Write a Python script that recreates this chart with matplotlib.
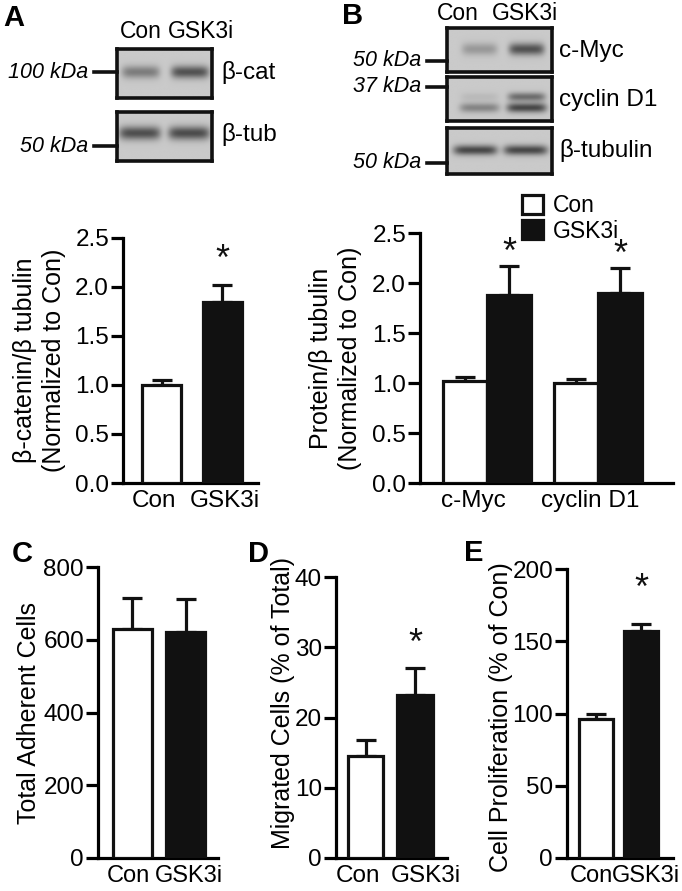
import numpy as np
import matplotlib
matplotlib.use("Agg")
import matplotlib.pyplot as plt
from matplotlib.transforms import ScaledTranslation
from matplotlib.patches import Patch

plt.rcParams['font.family'] = ['Liberation Sans', 'DejaVu Sans']
FS = 17.5
FSL = 18

W, H = 682, 891
fig = plt.figure(figsize=(W / 100, H / 100), dpi=100)

def ax_px(l, r, b, t):
    ax = fig.add_axes([l / W, 1 - b / H, (r - l) / W, (b - t) / H])
    ax._px = (l, r, b, t)
    return ax

# ---------------- data ----------------
groups2 = ["Con", "GSK3i"]
a_vals = [1.00, 1.85]
a_err = [0.05, 0.17]
b_cats = ["c-Myc", "cyclin D1"]
b_con = [1.02, 1.00]
b_con_err = [0.04, 0.04]
b_gsk = [1.88, 1.90]
b_gsk_err = [0.29, 0.25]
c_vals = [630, 620]
c_err = [85, 92]
d_vals = [14.5, 23.2]
d_err = [2.3, 3.8]
e_vals = [96, 157]
e_err = [3.5, 5.0]

# blot band intensities (Con, GSK3i)
blot_bcat = [0.50, 0.78]
blot_btub_a = [0.80, 0.82]
blot_cmyc = [0.32, 0.78]
blot_cyc_upper = [0.10, 0.60]
blot_cyc_lower = [0.45, 0.85]
blot_btub_b = [0.85, 0.85]

LW = 2.3

def style_axes(ax, ymax, yticks, yfmt):
    ax.set_ylim(0, ymax)
    ax.set_yticks(yticks)
    ax.set_yticklabels([yfmt(v) for v in yticks], fontsize=FS)
    for s in ['top', 'right']:
        ax.spines[s].set_visible(False)
    for s in ['left', 'bottom']:
        ax.spines[s].set_linewidth(LW)
    ax.tick_params(axis='y', length=9, width=LW, pad=1)
    ax.tick_params(axis='x', length=0, pad=5, labelsize=FS)
    ax.set_facecolor('none')

def xlabels(ax, pos, labels, offsets_px, fs=FS):
    ax.set_xticks(pos)
    ax.set_xticklabels(labels, fontsize=fs)
    for lab, dx in zip(ax.get_xticklabels(), offsets_px):
        lab.set_transform(lab.get_transform() + ScaledTranslation(dx / 100, 0, fig.dpi_scale_trans))

def ylabel(ax, text, right_px, center_y_px=None, **kw):
    l, r, b, t = ax._px
    ax.set_ylabel(text, fontsize=FSL, **kw)
    yc = 0.5 if center_y_px is None else (b - center_y_px) / (b - t)
    ax.yaxis.set_label_coords((right_px - l) / (r - l), yc)

def bars(ax, x, vals, errs, color, width):
    ax.bar(x, vals, width=width, color=color, edgecolor='#111111', linewidth=LW, zorder=3)
    ax.errorbar(x, vals, yerr=[np.zeros(len(vals)), errs], fmt='none', ecolor='#111111',
                elinewidth=LW, capsize=7.5, capthick=LW, zorder=2)

def star(ax, x, y):
    ax.text(x, y, "*", ha='center', va='center', fontsize=26, color='#111111')

# ---------------- Panel A bar ----------------
axA = ax_px(123, 258, 483, 238)
xA = np.arange(2)
bars(axA, xA[:1], a_vals[:1], a_err[:1], 'white', 0.645)
bars(axA, xA[1:], a_vals[1:], a_err[1:], '#111111', 0.645)
axA.set_xlim(-0.645, 1.59)
style_axes(axA, 2.5, [0, 0.5, 1.0, 1.5, 2.0, 2.5], lambda v: f"{v:.1f}")
xlabels(axA, xA, groups2, [-8, 2])
ylabel(axA, "β-catenin/β tubulin\n(Normalized to Con)", 66, linespacing=1.25)
star(axA, 1, a_vals[1] + a_err[1] + 0.25)

# ---------------- Panel B bar ----------------
axB = ax_px(420, 673, 483, 233)
xB = np.arange(2)
bw = 0.40
bars(axB, xB - bw / 2, b_con, b_con_err, 'white', bw)
bars(axB, xB + bw / 2, b_gsk, b_gsk_err, '#111111', bw)
axB.set_xlim(-0.604, 1.676)
style_axes(axB, 2.5, [0, 0.5, 1.0, 1.5, 2.0, 2.5], lambda v: f"{v:.1f}")
xlabels(axB, xB, b_cats, [-14, -8])
ylabel(axB, "Protein/β tubulin\n(Normalized to Con)", 362, linespacing=1.25)
for i in range(2):
    star(axB, xB[i] + bw / 2, b_gsk[i] + b_gsk_err[i] + 0.13)
axB.legend(handles=[Patch(facecolor='white', edgecolor='#111111', linewidth=LW, label='Con'),
                    Patch(facecolor='#111111', edgecolor='#111111', linewidth=LW, label='GSK3i')],
           loc='upper left', bbox_to_anchor=(522 / W, 1 - 194 / H), bbox_transform=fig.transFigure,
           frameon=False, fontsize=16.5,
           handlelength=0.9, handleheight=0.9, handletextpad=0.45, borderaxespad=0,
           labelspacing=0.12, borderpad=0)

# ---------------- Panel C ----------------
axC = ax_px(98, 218, 858, 567)
xC = np.arange(2)
bars(axC, xC[:1], c_vals[:1], c_err[:1], 'white', 0.73)
bars(axC, xC[1:], c_vals[1:], c_err[1:], '#111111', 0.73)
axC.set_xlim(-0.645, 1.6)
style_axes(axC, 800, [0, 200, 400, 600, 800], lambda v: f"{v:d}")
xlabels(axC, xC, groups2, [-4, 3], fs=17)
ylabel(axC, "Total Adherent Cells", 41)

# ---------------- Panel D ----------------
axD = ax_px(336, 447, 858, 577)
xD = np.arange(2)
bars(axD, xD[:1], d_vals[:1], d_err[:1], 'white', 0.72)
bars(axD, xD[1:], d_vals[1:], d_err[1:], '#111111', 0.72)
axD.set_xlim(-0.596, 1.646)
style_axes(axD, 40, [0, 10, 20, 30, 40], lambda v: f"{v:d}")
xlabels(axD, xD, groups2, [-8, 11])
ylabel(axD, "Migrated Cells (% of Total)", 295, center_y_px=703)
star(axD, 1, d_vals[1] + d_err[1] + 3.4)

# ---------------- Panel E ----------------
axE = ax_px(567, 673, 858, 569)
xE = np.arange(2)
bars(axE, xE[:1], e_vals[:1], e_err[:1], 'white', 0.755)
bars(axE, xE[1:], e_vals[1:], e_err[1:], '#111111', 0.755)
axE.set_xlim(-0.644, 1.71)
style_axes(axE, 200, [0, 50, 100, 150, 200], lambda v: f"{v:d}")
xlabels(axE, xE, groups2, [-5, 5], fs=17)
ylabel(axE, "Cell Proliferation (% of Con)", 513, center_y_px=717)
star(axE, 1, e_vals[1] + e_err[1] + 24)

# ---------------- Blots ----------------
BG = 0.79

def blot(l, r, b, t, bands):
    """bands: list of (intensities, lane_centers, y_frac_from_top, half_width, half_height)"""
    ax = ax_px(l, r, b, t)
    nx, ny = 200, 100
    xs = np.linspace(0, 1, nx)
    ys = np.linspace(0, 1, ny)
    X, Y = np.meshgrid(xs, ys)
    img = np.full_like(X, BG)
    for inten, centers, yc, hw, hh in bands:
        for k, c in zip(inten, centers):
            prof = np.exp(-((X - c) / hw) ** 6) * np.exp(-((Y - yc) / hh) ** 2)
            img -= k * 0.6 * prof
    img = np.clip(img, 0, 1)
    ax.imshow(img, cmap='gray', vmin=0, vmax=1, extent=(0, 1, 1, 0), aspect='auto',
              interpolation='bilinear')
    ax.set_xlim(0, 1)
    ax.set_ylim(1, 0)
    ax.set_xticks([])
    ax.set_yticks([])
    for s in ax.spines.values():
        s.set_linewidth(2.6)
        s.set_color('#111111')
    return ax

# Panel A blots
lanesA = [0.25, 0.77]
blot(117, 212, 98, 49, [(blot_bcat, lanesA, 0.47, 0.20, 0.13)])
blot(117, 212, 161, 112, [(blot_btub_a, [0.24, 0.76], 0.43, 0.22, 0.14)])

# Panel B blots
lanesB = [0.31, 0.76]
blot(447, 552, 72, 28, [(blot_cmyc, lanesB, 0.48, 0.17, 0.14)])
blot(447, 552, 121, 77, [(blot_cyc_upper, lanesB, 0.45, 0.18, 0.10),
                         (blot_cyc_lower, lanesB, 0.70, 0.19, 0.11)])
blot(447, 552, 174, 128, [(blot_btub_b, [0.27, 0.75], 0.48, 0.21, 0.11)])

def ftext(x, y, s, **kw):
    fig.text(x / W, 1 - y / H, s, **kw)

def marker(x0, x1, y, label):
    fig.add_artist(plt.Line2D([x0 / W, x1 / W], [1 - y / H, 1 - y / H], color='#111111',
                              linewidth=2.6, transform=fig.transFigure))
    ftext(x0 - 6, y, label, ha='right', va='center', fontsize=15.5, style='italic')

# lane labels
ftext(162, 31, "Con", ha='right', va='center', fontsize=16.5)
ftext(168, 31, "GSK3i", ha='left', va='center', fontsize=16.5)
ftext(458, 13, "Con", ha='center', va='center', fontsize=16.5)
ftext(525, 13, "GSK3i", ha='center', va='center', fontsize=16.5)

# protein labels
ftext(221, 72, "β-cat", ha='left', va='center', fontsize=FS)
ftext(221, 134, "β-tub", ha='left', va='center', fontsize=FS)
ftext(559, 51, "c-Myc", ha='left', va='center', fontsize=FS)
ftext(559, 100, "cyclin D1", ha='left', va='center', fontsize=FS)
ftext(559, 151, "β-tubulin", ha='left', va='center', fontsize=FS)

# MW markers
marker(94, 117, 72, "100 kDa")
marker(94, 117, 146, "50 kDa")
marker(427, 447, 61, "50 kDa")
marker(427, 447, 87, "37 kDa")
marker(427, 447, 163, "50 kDa")

# panel letters
for (x, y, s) in [(3, 18, "A"), (342, 16, "B"), (12, 554, "C"), (248, 554, "D"), (464, 553, "E")]:
    ftext(x, y, s, ha='left', va='center', fontsize=21, fontweight='bold')

fig.savefig("out.png", dpi=100)
